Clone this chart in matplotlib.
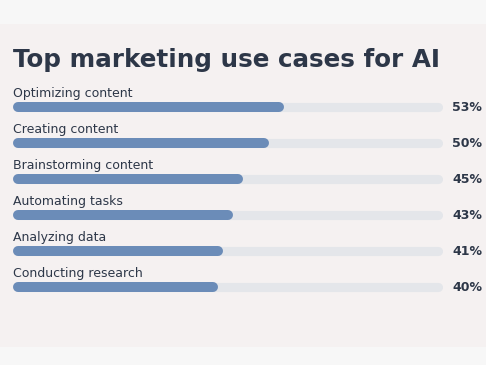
import matplotlib.pyplot as plt
from matplotlib.patches import Rectangle
from matplotlib.transforms import blended_transform_factory

# data
use_cases = ['Optimizing content', 'Creating content', 'Brainstorming content',
             'Automating tasks', 'Analyzing data', 'Conducting research']
shares = [53, 50, 45, 43, 41, 40]
track_max = 84.0  # the grey track runs a bit past the biggest value

bg = '#f5f1f1'
band = '#f7f7f7'
bar_col = '#6b8cb8'
track_col = '#e4e6ea'
text_col = '#2d3748'

W, H = 486, 365
fig = plt.figure(figsize=(W / 100, H / 100), dpi=100)
fig.patch.set_facecolor(bg)

# lighter strips at top and bottom of the card
fig.patches.append(Rectangle((0, 1 - 24 / H), 1, 24 / H, transform=fig.transFigure,
                             facecolor=band, edgecolor='none', zorder=0))
fig.patches.append(Rectangle((0, 0), 1, 18 / H, transform=fig.transFigure,
                             facecolor=band, edgecolor='none', zorder=0))

# axes placed so the track spans x 12.5..443 px, rows every 36 px
left, right = 12.5, 443
top, bottom = 70.5, 322.5
ax = fig.add_axes([left / W, 1 - bottom / H, (right - left) / W, (bottom - top) / H])
ax.set_facecolor('none')
ax.set_xlim(0, track_max)
ax.set_ylim(6, -1)
ax.axis('off')

lw_px = 10
r = (lw_px / 2) / ((right - left) / track_max)  # cap radius in data units
lw_pt = lw_px * 72 / 100

for i, (name, v) in enumerate(zip(use_cases, shares)):
    ax.plot([r, track_max - r], [i, i], color=track_col, lw=lw_pt - 0.6,
            solid_capstyle='round', zorder=1)
    ax.plot([r, v - r], [i, i], color=bar_col, lw=lw_pt,
            solid_capstyle='round', zorder=2)
    ax.text(0.05, i - 0.37, name, fontsize=9.0, color=text_col, va='center', ha='left')

trans = blended_transform_factory(ax.transAxes, ax.transData)
for i, v in enumerate(shares):
    ax.text((482 - left) / (right - left), i + 0.02, f'{v}%', transform=trans,
            fontsize=9.0, fontweight='bold', color=text_col, ha='right', va='center')

fig.text(12.5 / W, 1 - 60 / H, 'Top marketing use cases for AI', fontsize=17.7,
         fontweight='bold', color=text_col, ha='left', va='center')

fig.savefig('out.png', dpi=100, facecolor=fig.get_facecolor())
